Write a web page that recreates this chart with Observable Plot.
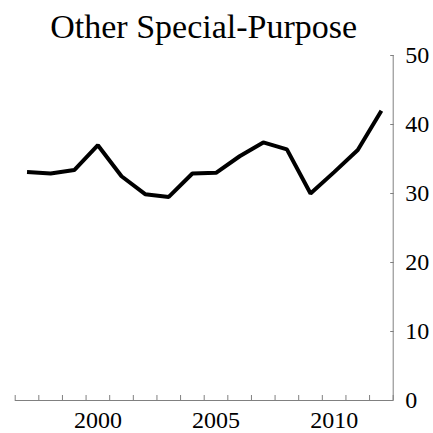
<!DOCTYPE html>
<html>
<head>
<meta charset="utf-8">
<script src="https://cdn.jsdelivr.net/npm/d3@7"></script>
<script src="https://cdn.jsdelivr.net/npm/@observablehq/plot@0.6"></script>
<style>
  html, body { margin: 0; padding: 0; background: #fff; }
  #wrap { position: relative; width: 433px; height: 433px; }
  #title { position: absolute; left: 14.7px; width: 378px; top: 9.5px; text-align: center;
           font-family: "Liberation Serif", serif; font-size: 34px; line-height: 34px; color: #000; white-space: nowrap; }
  svg text { font-family: "Liberation Serif", serif !important; }
</style>
</head>
<body>
<div id="wrap">
  <div id="title">Other Special-Purpose</div>
</div>
<script>
const titleText = "Other Special-Purpose";
const years = [1997, 1998, 1999, 2000, 2001, 2002, 2003, 2004, 2005, 2006, 2007, 2008, 2009, 2010, 2011, 2012];
const values = [33.1, 32.9, 33.4, 37.0, 32.5, 29.9, 29.5, 32.9, 33.0, 35.4, 37.4, 36.4, 30.0, 33.1, 36.3, 42.0];
const xLabels = [2000, 2005, 2010];
const yTicks = [0, 10, 20, 30, 40, 50];

document.getElementById("title").textContent = titleText;

const data = years.map((year, i) => ({year, value: values[i]}));
// band boundaries: each year occupies one band, ticks mark the boundaries
const boundaries = years.map(y => y - 0.5).concat([years[years.length - 1] + 0.5]);
const xDomain = [boundaries[0], boundaries[boundaries.length - 1]];

const axisColor = "#808080";
const serif = "Liberation Serif";

const chart = Plot.plot({
  width: 433,
  height: 433,
  marginTop: 55,
  marginBottom: 33,
  marginLeft: 14.7,
  marginRight: 40.3,
  style: {fontFamily: "'Liberation Serif', serif", fontSize: "24px", background: "white", color: "black", overflow: "visible"},
  x: {type: "linear", domain: xDomain},
  y: {domain: [yTicks[0], yTicks[yTicks.length - 1]]},
  marks: [
    Plot.ruleY([yTicks[0]], {stroke: axisColor, strokeWidth: 1}),
    Plot.ruleX([xDomain[1]], {stroke: axisColor, strokeWidth: 1}),
    Plot.axisX(boundaries, {anchor: "bottom", tickSize: -5, text: null, label: null, stroke: axisColor}),
    Plot.axisX(xLabels, {anchor: "bottom", tickSize: 0, tickPadding: 10, tickFormat: d => String(d), label: null, fill: "black", fontFamily: serif, fontSize: 24}),
    Plot.axisY(yTicks, {anchor: "right", tickSize: -3.5, text: null, label: null, stroke: axisColor}),
    Plot.axisY(yTicks, {anchor: "right", tickSize: 0, tickPadding: 12, tickFormat: d => String(d), label: null, fill: "black", fontFamily: serif, fontSize: 24}),
    Plot.line(data, {x: "year", y: "value", stroke: "black", strokeWidth: 4, strokeLinejoin: "miter", strokeLinecap: "butt"})
  ]
});
document.getElementById("wrap").insertBefore(chart, document.getElementById("title"));
chart.style.position = "absolute";
chart.style.left = "0";
chart.style.top = "0";
</script>
</body>
</html>
